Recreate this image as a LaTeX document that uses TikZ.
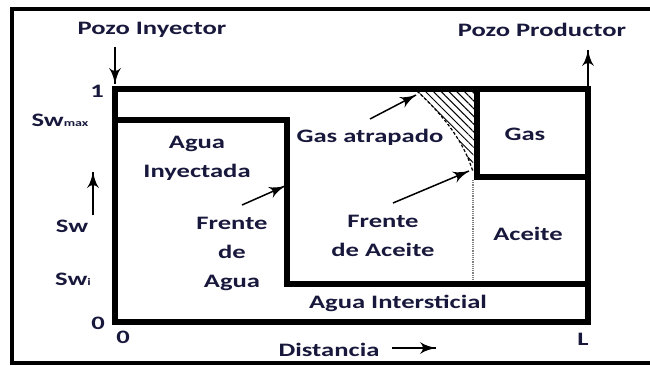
\documentclass[tikz,border=0pt]{standalone}
\usepackage{fontspec}
\usepackage{tikz}
\usetikzlibrary{arrows}
\usetikzlibrary{decorations.markings}
\usetikzlibrary{positioning}
\usetikzlibrary{patterns.meta}
\newfontfamily\lblfont{Carlito}[FakeStretch=1.4]
\definecolor{ink}{RGB}{24,24,60}
\tikzset{->/.style = {decoration={markings,
                                  mark=at position 1 with {\arrow[scale=2.2]{latex'}}},
                      postaction={decorate}}}
\tikzset{lbl/.style = {font=\lblfont\bfseries\fontsize{19}{29}\selectfont,
                       text=ink, inner sep=0, align=center}}
\tikzset{wall/.style = {line width=5.5}}
\tikzset{pointer/.style = {line width=1.5, ->}}
\newcommand{\sub}[1]{{\fontsize{10}{10}\selectfont #1}}

\begin{document}
\begin{tikzpicture}[x=1pt, y=-1pt]
      \useasboundingbox (0,0) rectangle (650,366);
      % marco exterior
      \draw [line width=4] (12,9) rectangle (664,363);
      % gas atrapado
      \fill [pattern={Lines[angle=-45, distance=5.5, line width=1]}]
            (417,91) .. controls (435,108) and (462,135) .. (473,172) -- (475,91) -- cycle;
      \draw [densely dashed, line width=1.2] (417,91) .. controls (435,108) and (462,135) .. (473,172);
      \draw [densely dotted, gray, line width=1.2] (473,180) -- (473,282);
      % yacimiento
      \draw [wall] (115,89) rectangle (588,322);
      \draw [wall] (115,120) -- (287,120) -- (287,284) -- (588,284);
      \draw [wall] (477,89) -- (477,177) -- (588,177);

      \node [lbl] (inj) at (152,30) {Pozo Inyector};
      \node [lbl] (prod) at (542,30) {Pozo Productor};
      \node [lbl] (one) at (97,91) {1};
      \node [lbl] (swmax) at (60,120) {Sw\sub{max}};
      \node [lbl] (sw) at (72,226) {Sw};
      \node [lbl] (swi) at (73,279) {Sw\sub{i}};
      \node [lbl] (zeroy) at (98,323) {0};
      \node [lbl] (zerox) at (123,337) {0};
      \node [lbl] (len) at (583,339) {L};
      \node [lbl] (dist) at (329,350) {Distancia};
      \node [lbl] (agin) at (197,158) {Agua\\Inyectada};
      \node [lbl] (gasat) at (370,137) {Gas atrapado};
      \node [lbl] (gas) at (525,134) {Gas};
      \node [lbl] (fagua) at (232,254) {Frente\\de\\Agua};
      \node [lbl] (facei) at (383,236) {Frente\\de Aceite};
      \node [lbl] (aceite) at (528,234) {Aceite};
      \node [lbl] (intst) at (398,303) {Agua Intersticial};

      \coordinate (injtop) at (115,47);
      \coordinate (injbot) at (115,84);
      \coordinate (prodbot) at (588,86);
      \coordinate (prodtop) at (588,50);
      \coordinate (swbot) at (93,215);
      \coordinate (swtop) at (93,172);
      \coordinate (distl) at (392,348);
      \coordinate (distr) at (436,348);
      \coordinate (gasfrom) at (370,119);
      \coordinate (gasto) at (416,95);
      \coordinate (aceifrom) at (393,203);
      \coordinate (aceito) at (469,171);
      \coordinate (aguafrom) at (242,205);
      \coordinate (aguato) at (285,186);

      \draw (injtop) edge [pointer] (injbot);
      \draw (prodbot) edge [pointer] (prodtop);
      \draw (swbot) edge [pointer] (swtop);
      \draw (distl) edge [pointer] (distr);
      \draw (gasfrom) edge [pointer] (gasto);
      \draw (aceifrom) edge [pointer] (aceito);
      \draw (aguafrom) edge [pointer] (aguato);
\end{tikzpicture}
\end{document}
